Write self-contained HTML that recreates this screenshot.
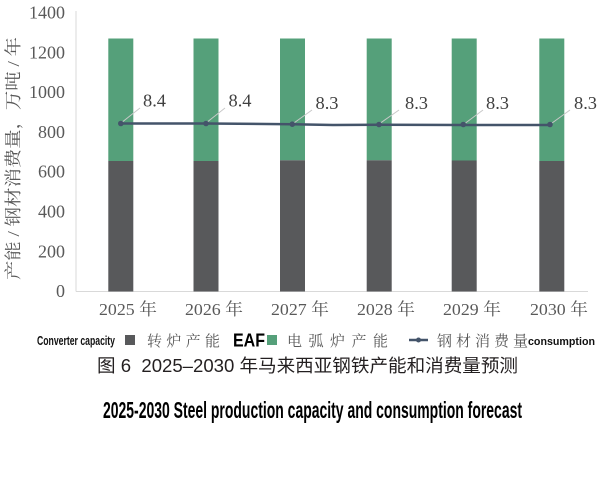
<!DOCTYPE html>
<html><head><meta charset="utf-8"><style>
html,body{margin:0;padding:0;background:#fff;}
svg{display:block;}
</style></head><body>
<svg width="601" height="485" viewBox="0 0 601 485" xmlns="http://www.w3.org/2000/svg">
<rect width="601" height="485" fill="#fff"/>
<!-- axes -->
<line x1="76" y1="11" x2="76" y2="291.5" stroke="#d9d9d9" stroke-width="1"/>
<line x1="76" y1="291.5" x2="588" y2="291.5" stroke="#d9d9d9" stroke-width="1"/>
<!-- y tick labels -->
<g font-family="Liberation Serif, serif" font-size="18" fill="#595959" text-anchor="end">
<text x="65" y="18.5">1400</text>
<text x="65" y="58.3">1200</text>
<text x="65" y="98.1">1000</text>
<text x="65" y="137.9">800</text>
<text x="65" y="177.7">600</text>
<text x="65" y="217.5">400</text>
<text x="65" y="257.3">200</text>
<text x="65" y="297">0</text>
</g>
<!-- y axis title -->
<text transform="translate(19,158.5) rotate(-90)" text-anchor="middle" font-family="Liberation Serif, 'Noto Serif CJK SC', serif" font-size="17" fill="#595959" textLength="243" lengthAdjust="spacingAndGlyphs">产能 / 钢材消费量，万吨 / 年</text>
<!-- bars -->
<g>
<rect x="108.3" y="38.5" width="25" height="122.5" fill="#55a07a"/>
<rect x="108.3" y="161" width="25" height="130.5" fill="#58595b"/>
<rect x="193.5" y="38.5" width="25" height="122.5" fill="#55a07a"/>
<rect x="193.5" y="161" width="25" height="130.5" fill="#58595b"/>
<rect x="280" y="38.5" width="25" height="121.8" fill="#55a07a"/>
<rect x="280" y="160.3" width="25" height="131.2" fill="#58595b"/>
<rect x="366.7" y="38.5" width="25" height="121.8" fill="#55a07a"/>
<rect x="366.7" y="160.3" width="25" height="131.2" fill="#58595b"/>
<rect x="451.7" y="38.5" width="25" height="122" fill="#55a07a"/>
<rect x="451.7" y="160.5" width="25" height="131" fill="#58595b"/>
<rect x="539.3" y="38.5" width="25" height="122.5" fill="#55a07a"/>
<rect x="539.3" y="161" width="25" height="130.5" fill="#58595b"/>
</g>
<!-- leader lines -->
<g stroke="#c8c8c8" stroke-width="1">
<line x1="121" y1="123" x2="140" y2="108"/>
<line x1="206" y1="123" x2="225" y2="108"/>
<line x1="292.5" y1="124" x2="312" y2="110"/>
<line x1="379" y1="124" x2="399" y2="110"/>
<line x1="463.5" y1="124.5" x2="483" y2="110"/>
<line x1="550" y1="124.5" x2="570" y2="110"/>
</g>
<!-- consumption line -->
<polyline points="120.8,123.5 206,123.5 292.3,124.2 333,125 379,124.8 463.3,125 550,125" fill="none" stroke="#44546a" stroke-width="2.5" stroke-linejoin="round"/>
<g fill="#44546a">
<circle cx="120.8" cy="123.5" r="2.8"/>
<circle cx="206" cy="123.5" r="2.8"/>
<circle cx="292.3" cy="124.2" r="2.8"/>
<circle cx="379" cy="124.5" r="2.8"/>
<circle cx="463.3" cy="124.5" r="2.8"/>
<circle cx="550" cy="124.5" r="2.8"/>
</g>
<!-- data labels -->
<g font-family="Liberation Serif, serif" font-size="18" fill="#404040">
<text x="143" y="106.5" textLength="23" lengthAdjust="spacingAndGlyphs">8.4</text>
<text x="228.5" y="106.5" textLength="23" lengthAdjust="spacingAndGlyphs">8.4</text>
<text x="315.5" y="109" textLength="23" lengthAdjust="spacingAndGlyphs">8.3</text>
<text x="405" y="109" textLength="23" lengthAdjust="spacingAndGlyphs">8.3</text>
<text x="486" y="109" textLength="23" lengthAdjust="spacingAndGlyphs">8.3</text>
<text x="574" y="109" textLength="23" lengthAdjust="spacingAndGlyphs">8.3</text>
</g>
<!-- x labels -->
<g font-family="Liberation Serif, 'Noto Serif CJK SC', serif" font-size="17" fill="#595959">
<text x="99" y="315" textLength="58" lengthAdjust="spacingAndGlyphs">2025 年</text>
<text x="185" y="315" textLength="58" lengthAdjust="spacingAndGlyphs">2026 年</text>
<text x="271" y="315" textLength="58" lengthAdjust="spacingAndGlyphs">2027 年</text>
<text x="357" y="315" textLength="58" lengthAdjust="spacingAndGlyphs">2028 年</text>
<text x="443" y="315" textLength="58" lengthAdjust="spacingAndGlyphs">2029 年</text>
<text x="530" y="315" textLength="58" lengthAdjust="spacingAndGlyphs">2030 年</text>
</g>
<!-- legend -->
<text x="37" y="345" font-family="Liberation Sans, sans-serif" font-weight="bold" font-size="13" fill="#111" textLength="78" lengthAdjust="spacingAndGlyphs">Converter capacity</text>
<rect x="125" y="335" width="10" height="10" fill="#58595b"/>
<text x="147" y="346" font-family="Liberation Serif, 'Noto Serif CJK SC', serif" font-size="15" fill="#595959" textLength="73" lengthAdjust="spacing">转炉产能</text>
<text x="233" y="346.5" font-family="Liberation Sans, sans-serif" font-weight="bold" font-size="18" fill="#000" textLength="32" lengthAdjust="spacingAndGlyphs">EAF</text>
<rect x="267" y="335" width="10" height="10" fill="#55a07a"/>
<text x="287" y="346" font-family="Liberation Serif, 'Noto Serif CJK SC', serif" font-size="15" fill="#595959" textLength="101" lengthAdjust="spacing">电弧炉产能</text>
<line x1="409" y1="340" x2="428" y2="340" stroke="#44546a" stroke-width="2.5"/>
<circle cx="418.5" cy="340" r="2.5" fill="#44546a"/>
<text x="437" y="346" font-family="Liberation Serif, 'Noto Serif CJK SC', serif" font-size="15" fill="#595959" textLength="91" lengthAdjust="spacing">钢材消费量</text>
<text x="528" y="345" font-family="Liberation Sans, sans-serif" font-weight="bold" font-size="11" fill="#111" textLength="67" lengthAdjust="spacingAndGlyphs">consumption</text>
<!-- titles -->
<text x="97" y="372" font-family="Liberation Sans, 'Noto Sans CJK SC', sans-serif" font-size="18" fill="#231f20" textLength="421" lengthAdjust="spacingAndGlyphs">图 6&#160;&#160;2025–2030 年马来西亚钢铁产能和消费量预测</text>
<text x="103" y="418" font-family="Liberation Sans, sans-serif" font-weight="bold" font-size="23" fill="#000" textLength="419" lengthAdjust="spacingAndGlyphs">2025-2030 Steel production capacity and consumption forecast</text>
</svg>
</body></html>
